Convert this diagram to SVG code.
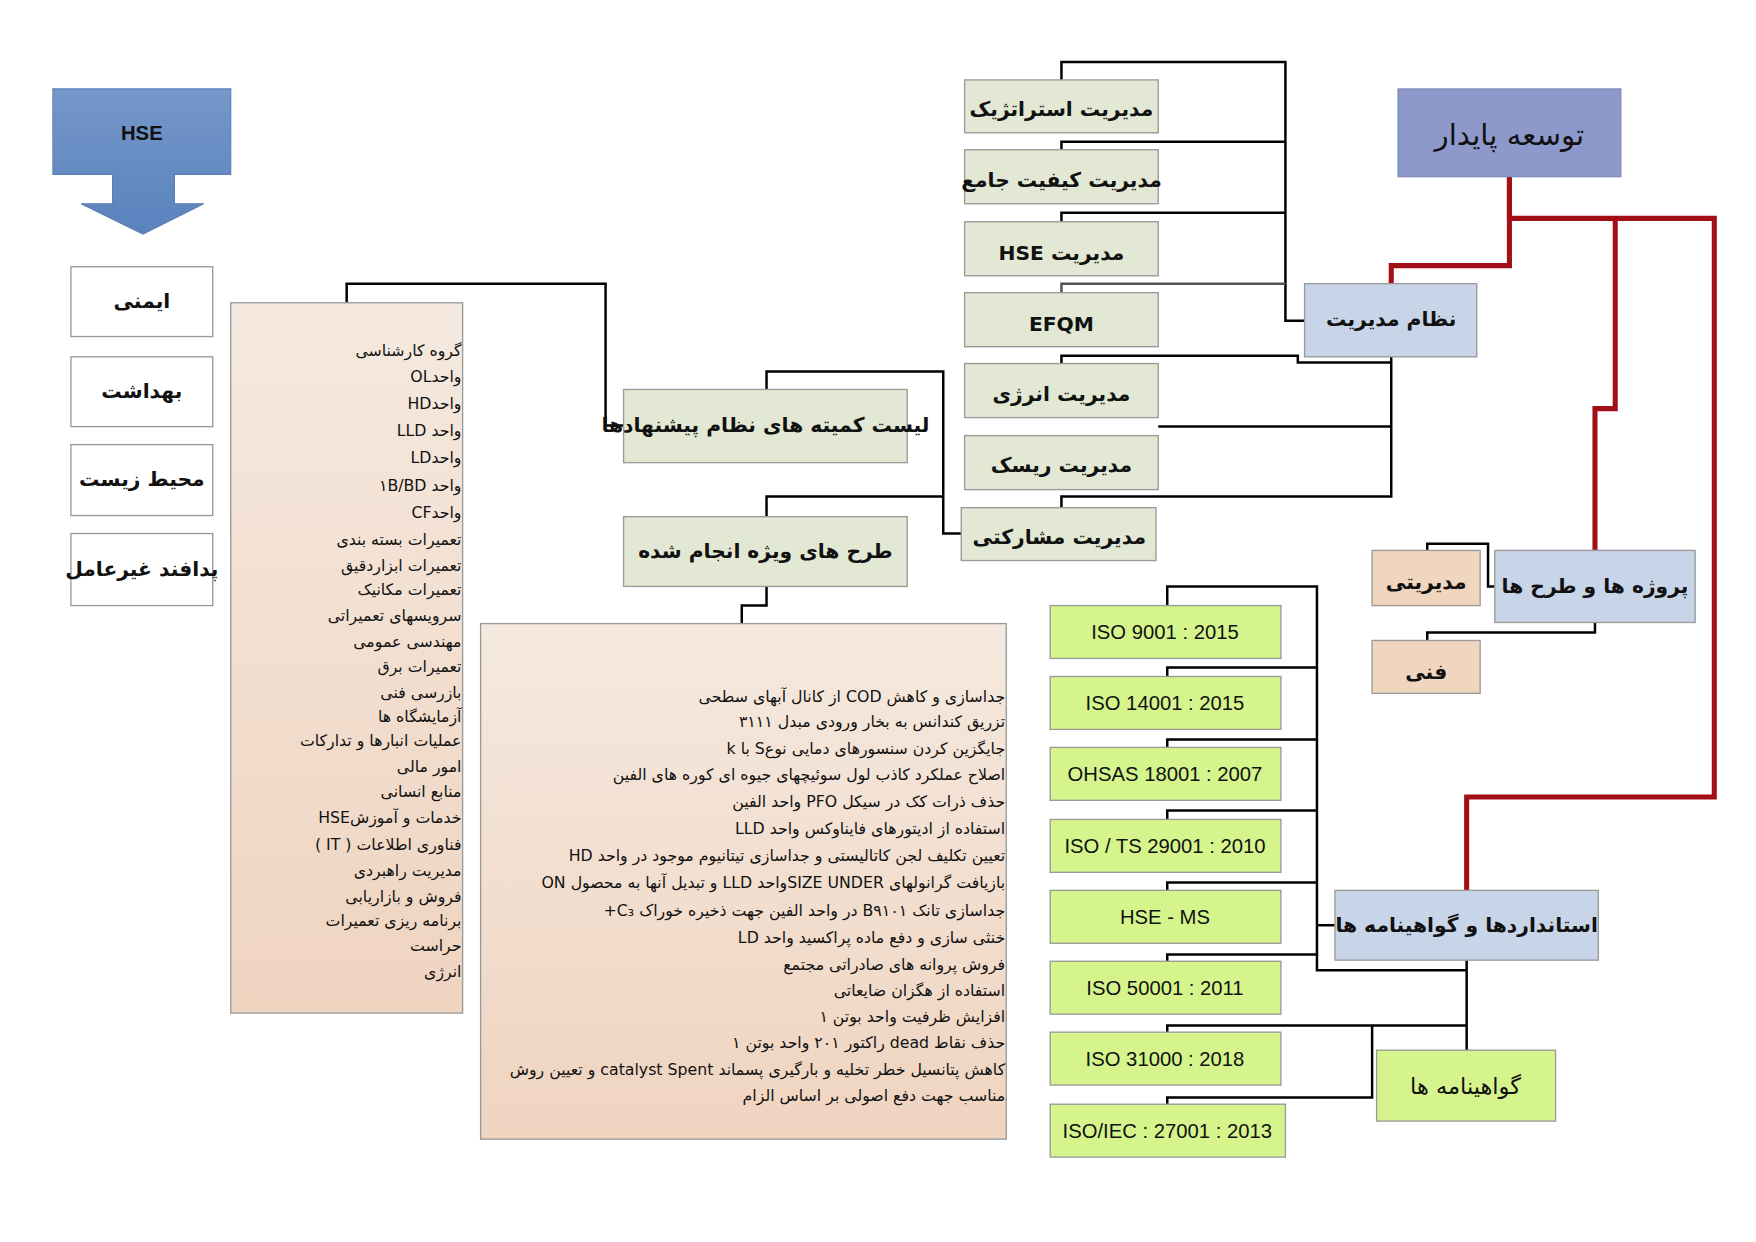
<svg xmlns="http://www.w3.org/2000/svg" width="1756" height="1242" viewBox="0 0 1756 1242">
<style>
.b{stroke:#9a9a9a;stroke-width:1.2}
.ol{fill:#e2e8d3}
.bl{fill:#c8d5e8}
.gr{fill:#d5f58c}
.pc{fill:#f1d6bf}
.wh{fill:#ffffff}
.t{font-family:"DejaVu Sans",sans-serif;font-weight:bold;font-size:18px;fill:#111;text-anchor:middle;direction:rtl;unicode-bidi:embed}
.iso{font-family:"Liberation Sans",sans-serif;font-size:18px;fill:#111;text-anchor:middle}
.l{font-family:"DejaVu Sans",sans-serif;font-size:14px;fill:#111;text-anchor:start;direction:rtl;unicode-bidi:embed}
.k{fill:none;stroke:#000;stroke-width:2.2}
.r{fill:none;stroke:#a30f16;stroke-width:4.5}
</style>
<defs>
<linearGradient id="pg" x1="0" y1="0" x2="0" y2="1"><stop offset="0" stop-color="#f5e9df"/><stop offset="1" stop-color="#efd4c0"/></linearGradient>
<linearGradient id="hg" x1="0" y1="0" x2="0" y2="1"><stop offset="0" stop-color="#7597c9"/><stop offset="1" stop-color="#5a82bd"/></linearGradient>
</defs>
<g transform="scale(1.1256)">
<g id="connectors">
<polyline class="k" points="308,269 308,252 538,252 538,378 554,378"/>
<polyline class="k" points="659,554 659,538 681,538 681,521"/>
<polyline class="k" points="681,346 681,330 838,330 838,474 854,474"/>
<polyline class="k" points="681,459 681,441 838,441"/>
<polyline class="k" points="943,71 943,55 1142,55 1142,285 1159,285"/>
<polyline class="k" points="943,133 943,126 1142,126"/>
<polyline class="k" points="943,197 943,189 1142,189"/>
<polyline class="k" points="943,260 943,252 1142,252" style="stroke:#555"/>
<polyline class="k" points="943,323 943,316 1153,316 1153,322 1236,322"/>
<polyline class="k" points="1236,317 1236,441 943,441 943,451"/>
<polyline class="k" points="1029,379 1236,379"/>
<polyline class="r" points="1341,157 1341,236 1236,236 1236,252"/>
<polyline class="r" points="1341,157 1341,194 1523,194 1523,708 1303,708 1303,791"/>
<polyline class="r" points="1435,194 1435,363 1417,363 1417,489"/>
<polyline class="k" points="1268,489 1268,483 1322,483 1322,521 1328,521"/>
<polyline class="k" points="1268,569 1268,562 1417,562 1417,553"/>
<polyline class="k" points="1037,538 1037,521 1170,521 1170,848 1037,848 1037,854"/>
<polyline class="k" points="1037,601 1037,593 1170,593"/>
<polyline class="k" points="1037,664 1037,657 1170,657"/>
<polyline class="k" points="1037,728 1037,720 1170,720"/>
<polyline class="k" points="1037,791 1037,784 1170,784"/>
<polyline class="k" points="1170,822 1186,822"/>
<polyline class="k" points="1170,848 1170,862 1303,862"/>
<polyline class="k" points="1303,853 1303,933"/>
<polyline class="k" points="1037,917 1037,911 1303,911"/>
<polyline class="k" points="1037,981 1037,975 1219,975 1219,911"/>
</g>
<g id="hse"><polygon points="47,79 205,79 205,155 155,155 155,181 181,181 127,208 72,181 100,181 100,155 47,155" fill="url(#hg)" stroke="#5b7fb5"/><text class="iso" x="126" y="124" style="font-weight:bold">HSE</text></g>
<g id="safety"><rect class="b wh" x="63" y="237" width="126" height="62"/><text class="t" x="126" y="274">ایمنی</text></g>
<g id="health"><rect class="b wh" x="63" y="317" width="126" height="62"/><text class="t" x="126" y="354">بهداشت</text></g>
<g id="env"><rect class="b wh" x="63" y="395" width="126" height="63"/><text class="t" x="126" y="432">محیط زیست</text></g>
<g id="defense"><rect class="b wh" x="63" y="474" width="126" height="64"/><text class="t" x="126" y="512">پدافند غیرعامل</text></g>
<g id="units"><rect class="b" fill="url(#pg)" x="205" y="269" width="206" height="631"/>
<text class="l" x="410" y="316">گروه کارشناسی</text>
<text class="l" x="410" y="339">واحدOL</text>
<text class="l" x="410" y="363">واحدHD</text>
<text class="l" x="410" y="387">واحد LLD</text>
<text class="l" x="410" y="411">واحدLD</text>
<text class="l" x="410" y="436">واحد  ۱B/BD</text>
<text class="l" x="410" y="460">واحدCF</text>
<text class="l" x="410" y="484">تعمیرات بسته بندی</text>
<text class="l" x="410" y="507">تعمیرات  ابزاردقیق</text>
<text class="l" x="410" y="529">تعمیرات مکانیک</text>
<text class="l" x="410" y="552">سرویسهای تعمیراتی</text>
<text class="l" x="410" y="575">مهندسی عمومی</text>
<text class="l" x="410" y="597">تعمیرات برق</text>
<text class="l" x="410" y="620">بازرسی فنی</text>
<text class="l" x="410" y="641">آزمایشگاه ها</text>
<text class="l" x="410" y="663">عملیات انبارها و تدارکات</text>
<text class="l" x="410" y="686">امور مالی</text>
<text class="l" x="410" y="708">منابع انسانی</text>
<text class="l" x="410" y="731">خدمات و آموزشHSE</text>
<text class="l" x="410" y="755">فناوری اطلاعات ( IT )</text>
<text class="l" x="410" y="778">مدیریت راهبردی</text>
<text class="l" x="410" y="801">فروش و بازاریابی</text>
<text class="l" x="410" y="823">برنامه ریزی تعمیرات</text>
<text class="l" x="410" y="845">حراست</text>
<text class="l" x="410" y="868">انرژی</text>
</g>
<g id="committee"><rect class="b ol" x="554" y="346" width="252" height="65"/><text class="t" x="680" y="384">لیست کمیته های نظام پیشنهادها</text></g>
<g id="special"><rect class="b ol" x="554" y="459" width="252" height="62"/><text class="t" x="680" y="496">طرح های ویژه انجام شده</text></g>
<g id="projlist"><rect class="b" fill="url(#pg)" x="427" y="554" width="467" height="458"/>
<text class="l" x="893" y="624">جداسازی و کاهش COD  از کانال آبهای سطحی</text>
<text class="l" x="893" y="646">تزریق کندانس به بخار ورودی مبدل ۳۱۱۱</text>
<text class="l" x="893" y="670">جایگزین کردن سنسورهای دمایی نوعS با k</text>
<text class="l" x="893" y="693">اصلاح عملکرد کاذب لول سوئیچهای جیوه ای کوره های الفین</text>
<text class="l" x="893" y="717">حذف ذرات کک در سیکل PFO واحد الفین</text>
<text class="l" x="893" y="741">استفاده از ادیتورهای فایناوکس واحد LLD</text>
<text class="l" x="893" y="765">تعیین تکلیف لجن کاتالیستی و جداسازی تیتانیوم موجود در واحد HD</text>
<text class="l" x="893" y="789">بازیافت گرانولهای SIZE UNDERواحد LLD  و تبدیل آنها به محصول ON</text>
<text class="l" x="893" y="814">جداسازی تانک B۹۱۰۱ در واحد الفین جهت ذخیره خوراک C₃+</text>
<text class="l" x="893" y="838">خنثی سازی و دفع ماده پراکسید واحد LD</text>
<text class="l" x="893" y="862">فروش پروانه های صادراتی مجتمع</text>
<text class="l" x="893" y="885">استفاده از هگزان ضایعاتی</text>
<text class="l" x="893" y="908">افزایش ظرفیت واحد بوتن ۱</text>
<text class="l" x="893" y="931">حذف نقاط dead راکتور ۲۰۱ واحد بوتن ۱</text>
<text class="l" x="893" y="955">کاهش پتانسیل خطر تخلیه و بارگیری پسماند catalyst Spent و تعیین روش</text>
<text class="l" x="893" y="978">مناسب جهت دفع اصولی بر اساس الزام</text>
</g>
<g id="strategic"><rect class="b ol" x="857" y="71" width="172" height="47"/><text class="t" x="943" y="103">مدیریت استراتژیک</text></g>
<g id="tqm"><rect class="b ol" x="857" y="133" width="172" height="48"/><text class="t" x="943" y="166">مدیریت کیفیت جامع</text></g>
<g id="hsem"><rect class="b ol" x="857" y="197" width="172" height="48"/><text class="t" x="943" y="231">مدیریت HSE</text></g>
<g id="efqm"><rect class="b ol" x="857" y="260" width="172" height="48"/><text class="t" x="943" y="294">EFQM</text></g>
<g id="energy"><rect class="b ol" x="857" y="323" width="172" height="48"/><text class="t" x="943" y="356">مدیریت انرژی</text></g>
<g id="risk"><rect class="b ol" x="857" y="387" width="172" height="48"/><text class="t" x="943" y="419">مدیریت ریسک</text></g>
<g id="partic"><rect class="b ol" x="854" y="451" width="173" height="47"/><text class="t" x="941" y="483">مدیریت مشارکتی</text></g>
<g id="mgmt"><rect class="b bl" x="1159" y="252" width="153" height="65"/><text class="t" x="1236" y="290">نظام مدیریت</text></g>
<g id="sustain"><rect x="1242" y="79" width="198" height="78" fill="#8d99cb" stroke="#7a85b5"/><text class="t" x="1341" y="129" style="font-weight:normal;font-size:26px">توسعه پایدار</text></g>
<g id="projects"><rect class="b bl" x="1328" y="489" width="178" height="64"/><text class="t" x="1417" y="527">پروژه ها و طرح ها</text></g>
<g id="managerial"><rect class="b pc" x="1219" y="489" width="96" height="49"/><text class="t" x="1267" y="523">مدیریتی</text></g>
<g id="technical"><rect class="b pc" x="1219" y="569" width="96" height="47"/><text class="t" x="1267" y="603">فنی</text></g>
<g id="iso9001"><rect class="b gr" x="933" y="538" width="205" height="47"/><text class="iso" x="1035" y="568">ISO 9001 : 2015</text></g>
<g id="iso14001"><rect class="b gr" x="933" y="601" width="205" height="47"/><text class="iso" x="1035" y="631">ISO 14001 : 2015</text></g>
<g id="ohsas"><rect class="b gr" x="933" y="664" width="205" height="47"/><text class="iso" x="1035" y="694">OHSAS 18001 : 2007</text></g>
<g id="isots"><rect class="b gr" x="933" y="728" width="205" height="47"/><text class="iso" x="1035" y="758">ISO / TS 29001 : 2010</text></g>
<g id="hsems"><rect class="b gr" x="933" y="791" width="205" height="47"/><text class="iso" x="1035" y="821">HSE - MS</text></g>
<g id="iso50001"><rect class="b gr" x="933" y="854" width="205" height="47"/><text class="iso" x="1035" y="884">ISO 50001 : 2011</text></g>
<g id="iso31000"><rect class="b gr" x="933" y="917" width="205" height="47"/><text class="iso" x="1035" y="947">ISO 31000 : 2018</text></g>
<g id="iso27001"><rect class="b gr" x="933" y="981" width="209" height="47"/><text class="iso" x="1037" y="1011">ISO/IEC : 27001 : 2013</text></g>
<g id="standards"><rect class="b bl" x="1186" y="791" width="234" height="62"/><text class="t" x="1303" y="828">استانداردها و گواهینامه ها</text></g>
<g id="certs"><rect class="b gr" x="1223" y="933" width="159" height="63"/><text class="t" x="1302" y="972" style="font-weight:normal;font-size:20px">گواهینامه ها</text></g>
</g>
</svg>
